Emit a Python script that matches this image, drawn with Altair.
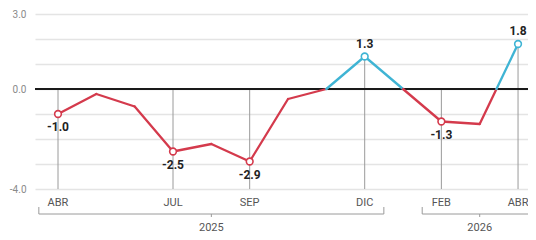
import altair as alt
import pandas as pd

# ---- data ----
months = ["ABR", "MAY", "JUN", "JUL", "AGO", "SEP", "OCT", "NOV", "DIC", "ENE", "FEB", "MAR", "ABR"]
values = [-1.0, -0.2, -0.7, -2.5, -2.2, -2.9, -0.4, 0.0, 1.3, 0.0, -1.3, -1.4, 1.8]
labeled = [0, 3, 5, 8, 10, 12]
years = ["2025", "2026"]
year_start = [-0.5, 9.5]
year_end = [8.5, 12.5]
year_mid = [4.0, 11.0]
y_ticks = [3, 2, 1, 0, -1, -2, -3, -4]

RED = "#d43a4c"
BLUE = "#3fb4d4"
FONT = "Roboto"

base_df = pd.DataFrame({"i": list(range(len(values))), "m": months, "v": values})
lab_df = base_df.iloc[labeled].copy()
lab_df["top"] = lab_df["v"].clip(lower=0)
lab_df["bottom"] = -4
lab_df["txt"] = lab_df["v"].map(lambda v: f"{v:.1f}")

# line segments, split where the series crosses zero
segs = []
for k in range(len(values) - 1):
    x0, y0, x1, y1 = k, values[k], k + 1, values[k + 1]
    if y0 * y1 < 0:
        t = y0 / (y0 - y1)
        xc = x0 + t
        parts = [(x0, y0, xc, 0.0), (xc, 0.0, x1, y1)]
    else:
        parts = [(x0, y0, x1, y1)]
    for a, b, c, d in parts:
        segs.append({"x": a, "y": b, "x2": c, "y2": d, "s": "pos" if (b + d) > 0 else "neg"})
seg_df = pd.DataFrame(segs)

year_df = pd.DataFrame({"year": years, "s": year_start, "e": year_end, "mid": year_mid})

x_scale = alt.Scale(domain=[-0.6, 12.26], nice=False, zero=False)
y_scale = alt.Scale(domain=[-4, 3], nice=False, zero=False)

y_axis = alt.Axis(
    values=y_ticks, title=None, domain=False, ticks=False, grid=True,
    gridColor="#e4e4e4", gridWidth=1.5,
    labelExpr="datum.value == 3 ? '3.0' : datum.value == 0 ? '0.0' : datum.value == -4 ? '-4.0' : ''",
    labelColor="#8a8a8a", labelFontSize=10, labelFont=FONT, labelPadding=9,
)

def X(f):
    return alt.X(f, type="quantitative", scale=x_scale, axis=None)

def Y(f):
    return alt.Y(f, type="quantitative", scale=y_scale, axis=y_axis, title=None)

# drop lines
drops = alt.Chart(lab_df).mark_rule(color="#9a9a9a", strokeWidth=1).encode(
    x=X("i"), y=Y("top"), y2="bottom"
)

zero = alt.Chart(pd.DataFrame({"z": [0]})).mark_rule(color="#1a1a1a", strokeWidth=2.2).encode(
    y=Y("z"), x=alt.value(0), x2=alt.value(493)
)

lines = alt.Chart(seg_df).mark_rule(strokeWidth=2.3, strokeCap="round").encode(
    x=X("x"), x2="x2", y=Y("y"), y2="y2",
    color=alt.Color("s:N", scale=alt.Scale(domain=["neg", "pos"], range=[RED, BLUE]), legend=None),
)

points = alt.Chart(lab_df).transform_calculate(
    s="datum.v > 0 ? 'pos' : 'neg'"
).mark_point(filled=True, fill="white", size=45, strokeWidth=1.6, opacity=1).encode(
    x=X("i"), y=Y("v"),
    stroke=alt.Stroke("s:N", scale=alt.Scale(domain=["neg", "pos"], range=[RED, BLUE]), legend=None),
)

neg_lbl = alt.Chart(lab_df).transform_filter("datum.v < 0").mark_text(
    dy=13, fontWeight="bold", fontSize=12, font=FONT, color="#222222", baseline="middle"
).encode(x=X("i"), y=Y("v"), text="txt:N")

pos_lbl = alt.Chart(lab_df).transform_filter("datum.v > 0").mark_text(
    dy=-13, fontWeight="bold", fontSize=12, font=FONT, color="#222222", baseline="middle"
).encode(x=X("i"), y=Y("v"), text="txt:N")

month_lbl = alt.Chart(lab_df).mark_text(
    fontSize=11, font=FONT, color="#555555", baseline="middle"
).encode(x=X("i"), y=alt.value(189), text="m:N")

bracket = alt.Chart(year_df).mark_rule(color="#9a9a9a", strokeWidth=1).encode(
    x=X("s"), x2="e", y=alt.value(200)
)
bracket_ends = alt.Chart(year_df).transform_fold(["s", "e"], as_=["k", "pos"]).mark_rule(
    color="#9a9a9a", strokeWidth=1
).encode(x=X("pos"), y=alt.value(193), y2=alt.value(200))
bracket_mid = alt.Chart(year_df).mark_rule(color="#9a9a9a", strokeWidth=1).encode(
    x=X("mid"), y=alt.value(200), y2=alt.value(203)
)
year_lbl = alt.Chart(year_df).mark_text(
    fontSize=11, font=FONT, color="#555555", baseline="alphabetic"
).encode(x=X("mid"), y=alt.value(216.5), text="year:N")

chart = alt.layer(
    drops, zero, lines, points, neg_lbl, pos_lbl, month_lbl,
    bracket, bracket_ends, bracket_mid, year_lbl
).properties(
    width=493, height=175,
    padding={"left": 27, "top": 6, "right": 0, "bottom": 43},
    autosize=alt.AutoSizeParams(type="none"),
    background="white",
).configure_view(stroke=None)

chart.save("out.html", embed_options={"renderer": "svg", "actions": False})
